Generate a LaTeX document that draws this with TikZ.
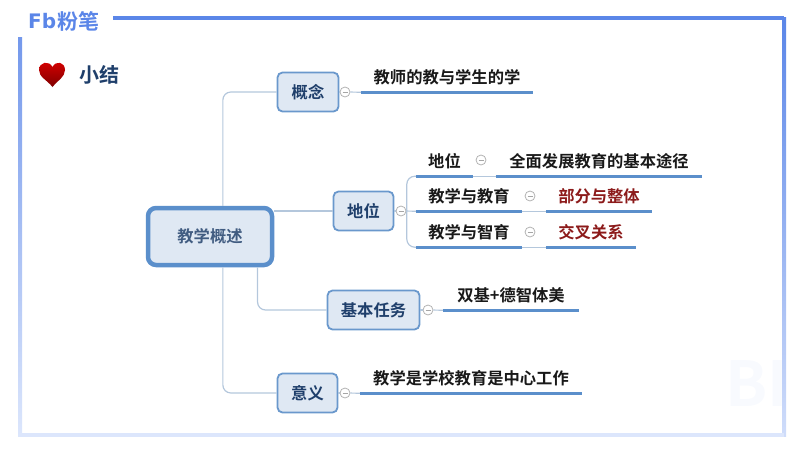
\documentclass[tikz,border=0pt]{standalone}
\usepackage{fontspec}
\usepackage{xcolor}
\usetikzlibrary{
    calc,
    positioning
}
\setmainfont{Noto Sans CJK SC}[BoldFont={Noto Sans CJK SC Bold}]
\newfontfamily\logofont{DejaVu Sans}
\definecolor{frameblue}{HTML}{5B86E8}
\definecolor{framelight}{HTML}{DCE6FC}
\definecolor{boxfill}{HTML}{DFE8F3}
\definecolor{boxedge}{HTML}{6A98CC}
\definecolor{linkblue}{HTML}{B4C7DC}
\definecolor{rulerblue}{HTML}{5B8FCB}
\definecolor{navy}{HTML}{1F3F6B}
\definecolor{darkred}{HTML}{8C1A1A}
\tikzset{
    mainbox/.style={draw=rulerblue, line width=4.5pt, fill=boxfill, rounded corners=8pt, minimum width=124pt, minimum height=57pt, text=navy!85, font=\bfseries\fontsize{16.3}{18}\selectfont},
    subbox/.style={draw=boxedge, line width=1.8pt, fill=boxfill, rounded corners=5pt, minimum height=39pt, text=navy, font=\bfseries\fontsize{16.3}{18}\selectfont},
    topic/.style={minimum height=29pt, inner sep=0pt, text=black!90, font=\bfseries\fontsize{16.3}{18}\selectfont},
    redtopic/.style={topic, text=darkred},
    folder/.style={circle, draw=black!30, line width=0.8pt, minimum size=10pt, inner sep=0pt},
    link/.style={draw=linkblue, line width=1.2pt, rounded corners=8pt},
    ruler/.style={draw=rulerblue, line width=2.8pt}
}
\begin{document}
\begin{tikzpicture}[x=1pt, y=-1pt]
    \useasboundingbox (0, 0) rectangle (800, 450);

    % frame
    \coordinate (topa) at (113, 18);
    \coordinate (topb) at (784, 18);
    \coordinate (botl) at (20, 435);
    \coordinate (botr) at (784, 435);
    \shade[top color=frameblue!85, bottom color=framelight] (18, 37) rectangle (22, 436);
    \shade[top color=frameblue, bottom color=framelight!90!frameblue] (782, 17) rectangle (786, 436);
    \draw[frameblue, line width=3.5pt] (topa) -- (topb);
    \draw[framelight, line width=3.5pt] (botl) -- (botr);

    % watermark
    \node[text=frameblue!4, font=\bfseries\fontsize{62}{62}\selectfont, inner sep=0pt] (mark) at (757, 384) {BI};

    % logo and title
    \node[text=frameblue, font=\logofont\bfseries\fontsize{20}{20}\selectfont, inner sep=0pt, anchor=west] (logofb) at (28, 21) {Fb};
    \node[text=frameblue, font=\bfseries\fontsize{21}{21}\selectfont, inner sep=0pt, right=1pt of logofb] (logoname) {粉笔};
    \shade[top color=red!85!black, bottom color=red!50!black]
        (52.5, 87) .. controls (47, 80) and (39, 77) .. (39, 70)
        .. controls (39, 62) and (49, 60) .. (52.5, 67)
        .. controls (56, 60) and (65, 62) .. (65, 70)
        .. controls (65, 77) and (58, 80) .. (52.5, 87) -- cycle;
    \node[text=navy, font=\bfseries\fontsize{20}{22}\selectfont, inner sep=0pt] (title) at (99, 75) {小结};

    % boxes
    \node[mainbox] (root) at (210, 236.5) {教学概述};
    \node[subbox, minimum width=61pt] (concept) at (308, 92) {概念};
    \node[subbox, minimum width=60pt] (status) at (363.5, 211) {地位};
    \node[subbox, minimum width=92pt] (task) at (373.5, 310) {基本任务};
    \node[subbox, minimum width=60pt] (meaning) at (307.5, 393) {意义};

    % texts
    \node[topic, minimum width=172pt] (conceptnote) at (447, 77.5) {教师的教与学生的学};
    \node[topic, minimum width=57pt] (rolea) at (444.5, 161.5) {地位};
    \node[topic, minimum width=206pt] (roleb) at (599, 161.5) {全面发展教育的基本途径};
    \node[topic, minimum width=106pt] (teachedu) at (469, 196.5) {教学与教育};
    \node[redtopic, minimum width=106pt] (teachedunote) at (599, 196.5) {部分与整体};
    \node[topic, minimum width=106pt] (teachmoral) at (469, 232.5) {教学与智育};
    \node[redtopic, minimum width=90pt] (teachmoralnote) at (591, 232.5) {交叉关系};
    \node[topic, minimum width=136pt] (tasknote) at (511, 295.5) {双基+德智体美};
    \node[topic, minimum width=222pt] (meaningnote) at (471, 378.5) {教学是学校教育是中心工作};

    % folders
    \node[folder] (fconcept) at (345, 92) {};
    \node[folder] (fstatus) at (401, 211) {};
    \node[folder] (ftask) at (428, 310) {};
    \node[folder] (fmeaning) at (345, 393) {};
    \node[folder] (frole) at (481, 160) {};
    \node[folder] (fedu) at (530, 196) {};
    \node[folder] (fmoral) at (530, 232) {};

    % links
    \draw[link] ($(root.north west)!0.6!(root.north east)$) |- (concept.west);
    \draw[link] ($(root.south west)!0.6!(root.south east)$) |- (meaning.west);
    \draw[link] ($(root.south west)!0.87!(root.south east)$) |- (task.west);
    \draw[link] (root.north east |- status.west) -- (status.west);
    \draw[link] (status.east) -- (fstatus);
    \draw[link] (concept.east) -- (fconcept);
    \draw[link] (task.east) -- (ftask);
    \draw[link] (meaning.east) -- (fmeaning);
    \draw[link] (fstatus) -- (teachedu.south west);
    \draw[link] (teachedu.south west) ++(-9, 0) |- (rolea.south west);
    \draw[link] (teachedu.south west) ++(-9, 0) |- (teachmoral.south west);
    \draw[link] (fconcept) -- (conceptnote.south west);
    \draw[link] (ftask) -- (tasknote.south west);
    \draw[link] (fmeaning) -- (meaningnote.south west);
    \draw[link] (rolea.south east) -- (roleb.south west);
    \draw[link] (teachedu.south east) -- (teachedunote.south west);
    \draw[link] (teachmoral.south east) -- (teachmoralnote.south west);

    % underlines
    \foreach \topicname in {conceptnote, rolea, roleb, teachedu, teachedunote, teachmoral, teachmoralnote, tasknote, meaningnote}
        \draw[ruler] (\topicname.south west) -- (\topicname.south east);

    % minus signs
    \foreach \foldername in {fconcept, fstatus, ftask, fmeaning, frole, fedu, fmoral}
        \draw[black!35, line width=0.7pt] ($(\foldername)+(-2.5, 0)$) -- ($(\foldername)+(2.5, 0)$);
\end{tikzpicture}
\end{document}
